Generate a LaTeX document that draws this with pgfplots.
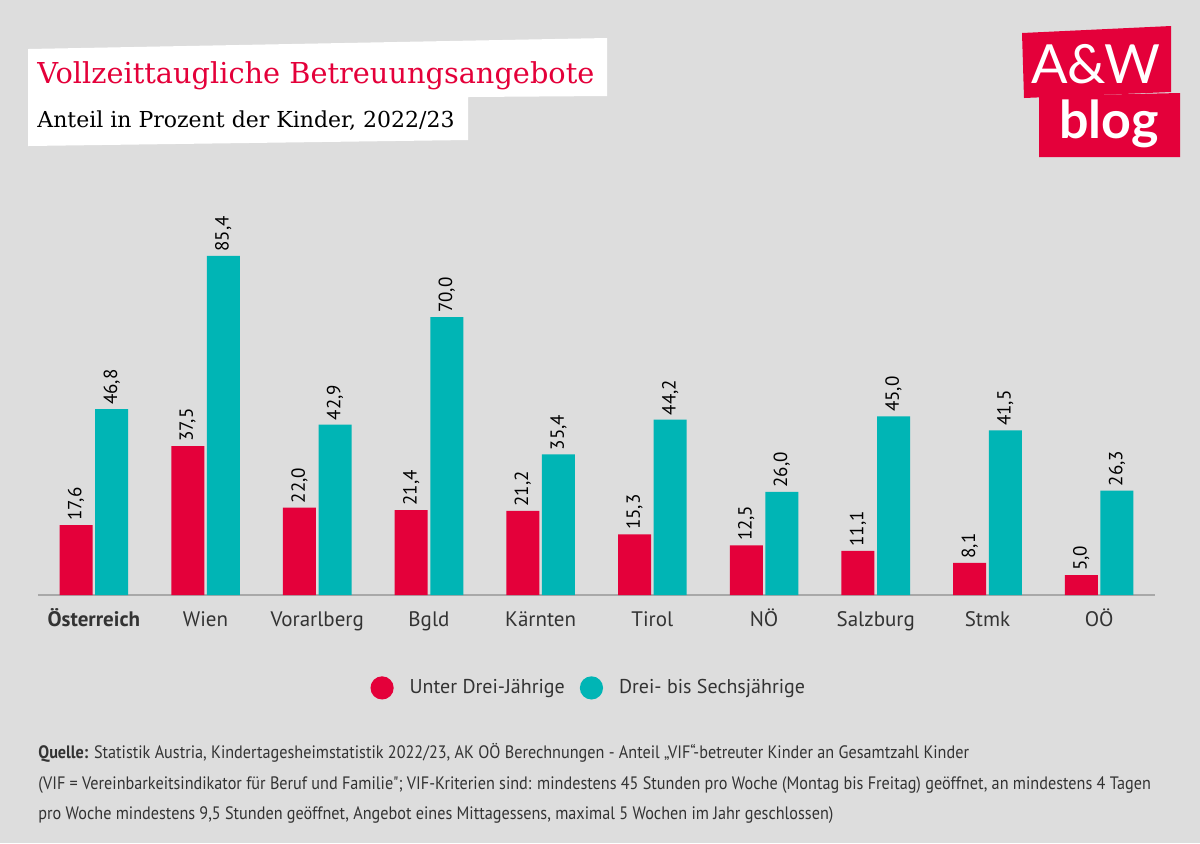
\documentclass[border=0pt]{standalone}
\usepackage{pgfplots}
\pgfplotsset{compat=1.18}
\usepackage{pgfplotstable}
\usepackage{fontspec}
\setmainfont{PT Sans}
\newfontfamily\titlefont{DejaVu Serif}
\newfontfamily\logofont{Lato}
\newfontfamily\notefont[FakeStretch=0.9]{PT Sans}
\definecolor{awred}{HTML}{E4003A}
\definecolor{awteal}{HTML}{00B5B5}
\definecolor{bg}{HTML}{DDDDDD}
\definecolor{txt}{HTML}{333333}
\definecolor{axisgray}{HTML}{A8A8A8}

\pgfplotstableread{
x u d
0 17.6 46.8
1 37.5 85.4
2 22.0 42.9
3 21.4 70.0
4 21.2 35.4
5 15.3 44.2
6 12.5 26.0
7 11.1 45.0
8 8.1 41.5
9 5.0 26.3
}\data

\begin{document}
\begin{tikzpicture}
\useasboundingbox (0,0) rectangle (600pt,-421.5pt);
\fill[bg] (0,0) rectangle (600pt,-421.5pt);
\begin{scope}[x=0.5pt,y=-0.5pt]
  % title boxes
  \fill[white] (28,49) -- (607,38) -- (607,96) -- (468,97) -- (468,140) -- (28,146) -- cycle;
  \node[anchor=base west, inner sep=0, text=awred, font=\titlefont\fontsize{14.4}{17}\selectfont] at (37,83) {Vollzeittaugliche Betreuungsangebote};
  \node[anchor=base west, inner sep=0, text=black, font=\titlefont\fontsize{11}{13}\selectfont] at (37,127) {Anteil in Prozent der Kinder, 2022/23};
  % logo
  \fill[awred] (1022,33) -- (1171,26) -- (1171,92) -- (1024,98) -- cycle;
  \fill[awred] (1039,96) -- (1180,93) -- (1180,157) -- (1039,157) -- cycle;
  \node[text=white, font=\logofont\fontsize{27}{30}\selectfont, inner sep=0] at (1096,64) {A\&W};
  \node[text=white, font=\logofont\bfseries\fontsize{26}{30}\selectfont, inner sep=0] at (1109,124) {blog};
  % footnote
  \begin{scope}[every node/.style={anchor=base west, inner sep=0, text=txt, font=\notefont\fontsize{9}{10}\selectfont}]
  \node at (38,758) {\textbf{Quelle:} Statistik Austria, Kindertagesheimstatistik 2022/23, AK OÖ Berechnungen - Anteil „VIF“-betreuter Kinder an Gesamtzahl Kinder};
  \node at (38,789) {(VIF = Vereinbarkeitsindikator für Beruf und Familie"; VIF-Kriterien sind: mindestens 45 Stunden pro Woche (Montag bis Freitag) geöffnet, an mindestens 4 Tagen};
  \node at (38,819) {pro Woche mindestens 9,5 Stunden geöffnet, Angebot eines Mittagessens, maximal 5 Wochen im Jahr geschlossen)};
  \end{scope}
\end{scope}

\begin{axis}[
  at={(19pt,-297.5pt)}, anchor=south west,
  scale only axis, width=558.5pt, height=198.5pt,
  xmin=-0.5, xmax=9.5, ymin=0, ymax=100,
  axis x line*=bottom, axis y line=none,
  x axis line style={-, color=axisgray, line width=0.8pt},
  xtick=data, major tick length=0pt,
  xticklabels={\textbf{Österreich},Wien,Vorarlberg,Bgld,Kärnten,Tirol,NÖ,Salzburg,Stmk,OÖ},
  x tick label style={font=\fontsize{10.5}{12}\selectfont, text=txt, yshift=-4pt, text height=8pt, text depth=2.5pt},
  ybar, bar width=16.5pt,
  nodes near coords,
  nodes near coords style={rotate=90, anchor=west, font=\fontsize{9.5}{11}\selectfont, text=black, inner sep=2pt,
     /pgf/number format/.cd, fixed, fixed zerofill, precision=1, use comma, assume math mode=true},
  legend style={at={(0.494,-0.234)}, anchor=center, draw=none, fill=none,
     legend columns=2, font=\fontsize{10}{12}\selectfont, text=txt,
     /tikz/every even column/.append style={column sep=5.5pt}},
  legend image code/.code={\fill (0cm,0cm) circle (5.8pt);},
]
\addplot[fill=awred, draw=none, bar shift=-8.9pt] table[x=x,y=u] {\data};
\addplot[fill=awteal, draw=none, bar shift=8.9pt] table[x=x,y=d] {\data};
\legend{\hspace{6pt}Unter Drei-Jährige, \hspace{6pt}Drei- bis Sechsjährige}
\end{axis}
\end{tikzpicture}
\end{document}
